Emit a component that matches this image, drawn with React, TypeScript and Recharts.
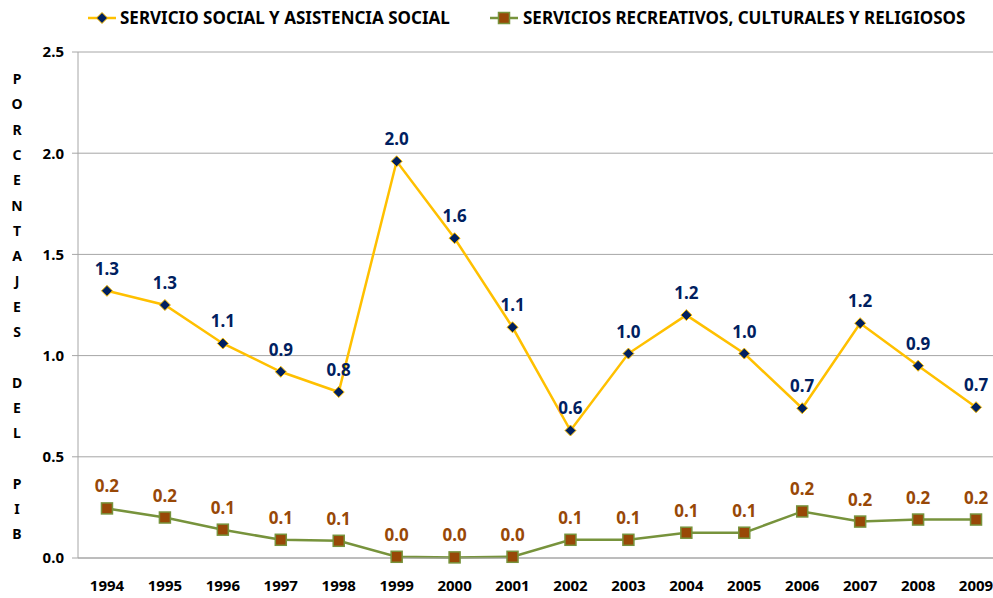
import React from 'react';
import { LineChart, Line, XAxis, YAxis, CartesianGrid, LabelList } from 'recharts';

const years = [1994, 1995, 1996, 1997, 1998, 1999, 2000, 2001, 2002, 2003, 2004, 2005, 2006, 2007, 2008, 2009];
const social = [1.32, 1.25, 1.06, 0.92, 0.82, 1.96, 1.58, 1.14, 0.63, 1.01, 1.2, 1.01, 0.74, 1.16, 0.95, 0.745];
const recreativos = [0.245, 0.2, 0.14, 0.09, 0.085, 0.006, 0.003, 0.006, 0.09, 0.09, 0.125, 0.125, 0.23, 0.18, 0.19, 0.19];
const yTicks = [0, 0.5, 1, 1.5, 2, 2.5];
const yTitle = 'PORCENTAJES DEL PIB';

const data = years.map((year, i) => ({ year, social: social[i], recreativos: recreativos[i] }));
const boundaries = [...years.map((y) => y - 0.5), 2009.5];

const FONT = '"Noto Sans", sans-serif';
const YELLOW = '#FFC000';
const NAVY = '#002060';
const GREEN = '#77933C';
const BROWN = '#984807';

const Diamond = (props: any) => {
  const { cx, cy } = props;
  if (cx == null || cy == null) return null;
  const r = 5.5;
  return (
    <polygon
      points={`${cx},${cy - r} ${cx + r},${cy} ${cx},${cy + r} ${cx - r},${cy}`}
      fill={NAVY}
      stroke={YELLOW}
      strokeWidth={1}
    />
  );
};

const Square = (props: any) => {
  const { cx, cy } = props;
  if (cx == null || cy == null) return null;
  return <rect x={cx - 5.5} y={cy - 5.5} width={11} height={11} fill={BROWN} stroke={GREEN} strokeWidth={1.5} />;
};

const makeLabel = (color: string) => (props: any) => {
  const { x, y, value } = props;
  return (
    <text x={x} y={y - 16} textAnchor="middle" fill={color} fontSize={17} fontWeight="bold" fontFamily={FONT}>
      {Number(value).toFixed(1)}
    </text>
  );
};

const YTitle = () => {
  const letters = yTitle.split('');
  return (
    <text x={17} y={84} textAnchor="middle" fontSize={14} fontWeight="bold" fontFamily={FONT} fill="#000">
      {letters.map((ch, i) => (
        <tspan key={i} x={17} y={84 + i * 25.3}>
          {ch === ' ' ? '\u00a0' : ch}
        </tspan>
      ))}
    </text>
  );
};

const Legend = () => (
  <svg width={993} height={40} style={{ position: 'absolute', left: 0, top: 0 }}>
    <line x1={88} x2={116} y1={18} y2={18} stroke={YELLOW} strokeWidth={2.5} />
    <Diamond cx={102} cy={18} />
    <text x={120} y={24} fontSize={17} fontWeight="bold" fontFamily={FONT} fill="#000">
      SERVICIO SOCIAL Y ASISTENCIA SOCIAL
    </text>
    <line x1={490} x2={518} y1={18} y2={18} stroke={GREEN} strokeWidth={2.5} />
    <Square cx={504} cy={18} />
    <text x={523} y={24} fontSize={17} fontWeight="bold" fontFamily={FONT} fill="#000">
      SERVICIOS RECREATIVOS, CULTURALES Y RELIGIOSOS
    </text>
  </svg>
);

export default function App() {
  return (
    <div style={{ position: 'absolute', left: 0, top: 0, width: 993, height: 598, overflow: 'hidden', background: '#fff' }}>
      <LineChart width={1005} height={598} data={data} margin={{ top: 52, right: 0, bottom: 0, left: 0 }}>
        <CartesianGrid horizontal vertical={false} stroke="#A6A6A6" />
        <XAxis
          dataKey="year"
          type="number"
          domain={[1993.5, 2009.5]}
          ticks={years}
          interval={0}
          tickLine={false}
          axisLine={{ stroke: '#A6A6A6' }}
          height={40}
          tickMargin={16}
          tick={{ fill: '#000', fontSize: 15, fontWeight: 'bold', fontFamily: FONT }}
        />
        <XAxis
          xAxisId="b"
          dataKey="year"
          type="number"
          domain={[1993.5, 2009.5]}
          ticks={boundaries}
          interval={0}
          axisLine={false}
          tickLine={{ stroke: '#A6A6A6' }}
          tickSize={5}
          tick={false}
          height={0}
        />
        <YAxis
          domain={[0, 2.5]}
          ticks={yTicks}
          width={78}
          tickSize={6}
          tickLine={{ stroke: '#A6A6A6' }}
          axisLine={{ stroke: '#A6A6A6' }}
          tickMargin={8}
          tickFormatter={(v) => Number(v).toFixed(1)}
          tick={{ fill: '#000', fontSize: 15, fontWeight: 'bold', fontFamily: FONT }}
          label={<YTitle />}
        />
        <Line
          dataKey="social"
          stroke={YELLOW}
          strokeWidth={2.5}
          dot={<Diamond />}
          activeDot={false}
          isAnimationActive={false}
        >
          <LabelList dataKey="social" content={makeLabel(NAVY)} />
        </Line>
        <Line
          dataKey="recreativos"
          stroke={GREEN}
          strokeWidth={2.5}
          dot={<Square />}
          activeDot={false}
          isAnimationActive={false}
        >
          <LabelList dataKey="recreativos" content={makeLabel(BROWN)} />
        </Line>
      </LineChart>
      <Legend />
    </div>
  );
}
